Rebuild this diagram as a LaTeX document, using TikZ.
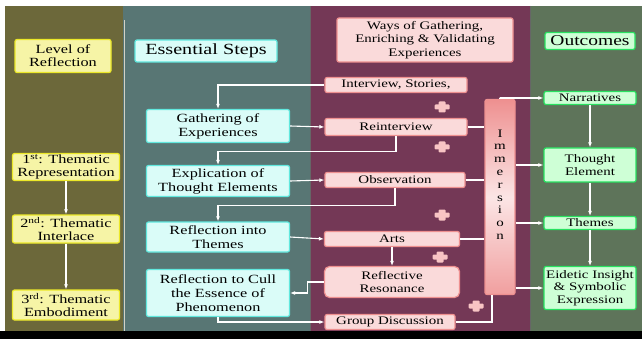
\documentclass[tikz,border=0pt]{standalone}
\usepackage{fontspec}
\setmainfont{Liberation Serif}[FakeStretch=1.3]
\usetikzlibrary{arrows.meta,positioning}

\definecolor{olivebg}{RGB}{108,104,58}
\definecolor{tealbg}{RGB}{88,118,116}
\definecolor{plumbg}{RGB}{116,56,86}
\definecolor{greenbg}{RGB}{94,116,90}
\definecolor{yelin}{RGB}{246,244,166}
\definecolor{yelout}{RGB}{236,232,40}
\definecolor{cyanin}{RGB}{218,252,248}
\definecolor{cyanout}{RGB}{96,232,222}
\definecolor{pinkin}{RGB}{250,218,218}
\definecolor{pinkout}{RGB}{238,144,144}
\definecolor{grnin}{RGB}{206,255,214}
\definecolor{grnout}{RGB}{40,226,96}
\definecolor{plusfill}{RGB}{248,196,196}

\pgfdeclarehorizontalshading{yelglow}{100bp}{color(0bp)=(yelout); color(12bp)=(yelin); color(88bp)=(yelin); color(100bp)=(yelout)}
\pgfdeclarehorizontalshading{cyanglow}{100bp}{color(0bp)=(cyanout); color(12bp)=(cyanin); color(88bp)=(cyanin); color(100bp)=(cyanout)}
\pgfdeclarehorizontalshading{pinkglow}{100bp}{color(0bp)=(pinkout); color(12bp)=(pinkin); color(88bp)=(pinkin); color(100bp)=(pinkout)}
\pgfdeclarehorizontalshading{grnglow}{100bp}{color(0bp)=(grnout); color(14bp)=(grnin); color(86bp)=(grnin); color(100bp)=(grnout)}

\begin{document}
\begin{tikzpicture}[
        x=1pt, y=-1pt,
        glow/.style={rectangle, rounded corners=2pt, align=center, text=black, inner sep=1pt, line width=1.2pt},
        yelbox/.style={glow, shading=yelglow, draw=yelout, minimum width=107pt,
            font=\fontsize{12.5}{13}\selectfont},
        cyanbox/.style={glow, shading=cyanglow, draw=cyanout, minimum width=143pt,
            font=\fontsize{12.5}{14}\selectfont},
        pinkbox/.style={glow, shading=pinkglow, draw=pinkout, minimum height=15pt,
            font=\fontsize{11.5}{12.5}\selectfont},
        grnbox/.style={glow, shading=grnglow, draw=grnout, minimum width=92pt,
            font=\fontsize{11.5}{12.5}\selectfont},
        arrow/.style={-{Latex[length=5pt,width=4pt]}, white, line width=1.1pt},
        link/.style={white, line width=1.1pt},
        plus/.pic={
            \fill[plusfill, rounded corners=1pt] (-7.5,-2.5) rectangle (7.5,2.5);
            \fill[plusfill, rounded corners=1pt] (-3.5,-5.5) rectangle (3.5,5.5);
        }
    ]

    % Background panels
    \useasboundingbox (0,0) rectangle (642,339);
    \fill[white] (0,0) rectangle (642,339);
    \fill[olivebg] (5,6) rectangle (123,331);
    \fill[tealbg] (123,6) rectangle (310,331);
    \fill[plumbg] (310,6) rectangle (530,331);
    \fill[greenbg] (530,6) rectangle (642,331);
    \draw[white!70!olivebg, line width=0.8pt] (124,20) -- (124,331);
    \draw[black!60, line width=0.8pt] (310,6) -- (310,331) (530,6) -- (530,331);
    \fill[black] (0,331) rectangle (642,339);

    % Level of reflection
    \node[yelbox, minimum width=96pt, minimum height=33pt] (lvl) at (63,56) {Level of\\Reflection};
    \node[yelbox, minimum height=26pt] (t1) at (66,167) {1\textsuperscript{st}: Thematic\\Representation};
    \node[yelbox, minimum height=28pt] (t2) at (66,229) {2\textsuperscript{nd}: Thematic\\Interlace};
    \node[yelbox, minimum height=30pt] (t3) at (66,305) {3\textsuperscript{rd}: Thematic\\Embodiment};

    % Essential steps
    \node[cyanbox, minimum width=142pt, minimum height=22pt, font=\fontsize{15.5}{16}\selectfont] (steps) at (206,51) {Essential Steps};
    \node[cyanbox, minimum height=33pt] (gath) at (218,126) {Gathering of\\Experiences};
    \node[cyanbox, minimum height=31pt] (expl) at (218,181) {Explication of\\Thought Elements};
    \node[cyanbox, minimum height=30pt] (refl) at (218,237) {Reflection into\\Themes};
    \node[cyanbox, minimum height=47pt] (cull) at (218,293) {Reflection to Cull\\the Essence of\\Phenomenon};

    % Ways of gathering
    \node[pinkbox, minimum width=176pt, minimum height=44pt, font=\fontsize{11.5}{13.5}\selectfont] (ways) at (425,40) {Ways of Gathering,\\Enriching \& Validating\\Experiences};
    \node[pinkbox, minimum width=142pt] (intv) at (396,85) {Interview, Stories,};
    \node[pinkbox, minimum width=142pt, minimum height=17pt] (reint) at (396,127) {Reinterview};
    \node[pinkbox, minimum width=140pt] (obs) at (395,180) {Observation};
    \node[pinkbox, minimum width=135pt] (arts) at (392,239) {Arts};
    \node[pinkbox, minimum width=135pt, minimum height=31pt, rounded corners=5pt] (reso) at (392,282) {Reflective\\Resonance};
    \node[pinkbox, minimum width=130pt] (grp) at (390,322) {Group Discussion};
    \node[glow, top color=pinkout, bottom color=pinkout!80!pinkin, middle color=pinkin!70!white, draw=pinkout,
        minimum width=30pt, minimum height=195pt, font=\fontsize{11.5}{12.8}\selectfont] (imm) at (500,197)
        {I\\m\\m\\e\\r\\s\\i\\o\\n\\[12pt]};
    \foreach \px/\py in {442/107, 442/147, 442/215, 440/257, 476/306}
        \pic at (\px,\py) {plus};

    % Outcomes
    \node[grnbox, minimum width=90pt, minimum height=17pt, font=\fontsize{15}{16}\selectfont] (outc) at (590,41) {Outcomes};
    \node[grnbox, minimum height=13pt] (narr) at (590,98) {Narratives};
    \node[grnbox, minimum height=34pt] (thgt) at (590,165) {Thought\\Element};
    \node[grnbox, minimum height=13pt] (thms) at (590,223) {Themes};
    \node[grnbox, minimum height=43pt] (eid) at (590,288) {Eidetic Insight\\\& Symbolic\\Expression};

    % Arrows
    \draw[arrow] (t1) -- (t2);
    \draw[arrow] (t2) -- (t3);
    \draw[arrow] (intv.west) -| (gath.north);
    \draw[arrow] (gath.east) -- (reint.west);
    \draw[arrow] (reint.south) -- ++(0,15) -| (expl.north);
    \draw[arrow] (expl.east) -- (obs.west);
    \draw[arrow] (obs.south) -- ++(0,17) -| (refl.north);
    \draw[arrow] (refl.east) -- (arts.west);
    \draw[arrow] (arts.south) -- (reso.north);
    \draw[arrow] (reso.west) -- ++(-16,0) |- (cull.east);
    \draw[arrow] (cull.south) |- (grp.west);
    \draw[link] (reint.east) -- (reint.east -| imm.west);
    \draw[link] (obs.east) -- (obs.east -| imm.west);
    \draw[link] (arts.east) -- (arts.east -| imm.west);
    \draw[link] (grp.east) -| ([xshift=-8pt]imm.south);
    \draw[arrow] ([yshift=1pt]imm.north) |- (narr.west);
    \draw[arrow] (imm.east |- thgt.west) -- (thgt.west);
    \draw[arrow] (imm.east |- thms.west) -- (thms.west);
    \draw[arrow] (imm.east |- eid.west) -- (eid.west);
    \draw[arrow] (narr) -- (thgt);
    \draw[arrow] (thgt) -- (thms);
    \draw[arrow] (thms) -- (eid);

\end{tikzpicture}
\end{document}
